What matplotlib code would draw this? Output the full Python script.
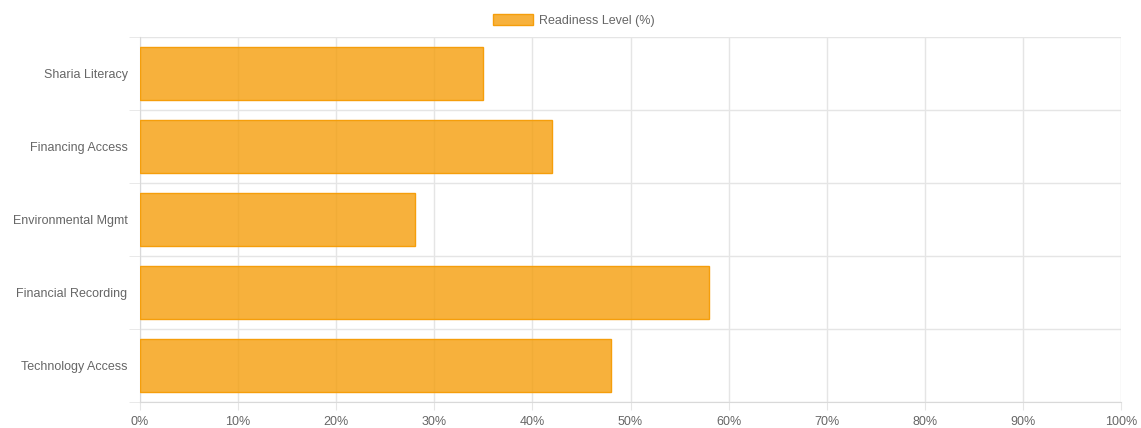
import numpy as np
import matplotlib.pyplot as plt
from matplotlib.patches import Patch

# Readiness levels per category (horizontal bar chart)
categories = ['Sharia Literacy', 'Financing Access', 'Environmental Mgmt',
              'Financial Recording', 'Technology Access']
readiness = [35, 42, 28, 58, 48]
x_ticks = list(range(0, 101, 10))
series_label = 'Readiness Level (%)'

plt.rcParams['font.family'] = ['Liberation Sans', 'DejaVu Sans']

fill = (245/255, 158/255, 11/255, 0.8)
edge = (245/255, 158/255, 11/255, 1.0)
grid_c = '#e5e5e5'
text_c = '#666666'

fig = plt.figure(figsize=(11.41, 4.28), dpi=100)
ax = fig.add_axes([140/1141, 26/428, 981/1141, 365/428])

y = np.arange(len(categories))
ax.barh(y, readiness, height=0.72, color=fill, edgecolor=edge, linewidth=1, zorder=3)

ax.set_xlim(0, 100)
ax.set_ylim(len(categories) - 0.5, -0.5)
ax.set_xticks(x_ticks)
ax.set_xticklabels([f'{v}%' for v in x_ticks])
ax.set_yticks(y)
ax.set_yticklabels(categories)
ax.set_yticks(np.arange(-0.5, len(categories)), minor=True)

ax.grid(axis='x', which='major', color=grid_c, linewidth=1, zorder=0)
ax.grid(axis='y', which='minor', color=grid_c, linewidth=1, zorder=0)
ax.tick_params(axis='x', which='major', length=6, color=grid_c, labelsize=9,
               labelcolor=text_c, pad=4)
ax.tick_params(axis='y', which='major', length=0, labelsize=9, labelcolor=text_c, pad=9)
ax.tick_params(axis='y', which='minor', length=8, color=grid_c)
for s in ['top', 'right']:
    ax.spines[s].set_visible(False)
for s in ['left', 'bottom']:
    ax.spines[s].set_color('#d9d9d9')

handle = Patch(facecolor=fill, edgecolor=edge, linewidth=1)
fig.legend([handle], [series_label], loc='center', bbox_to_anchor=(0.503, 0.953),
           frameon=False, fontsize=9, handlelength=3.2, handleheight=1.0,
           handletextpad=0.5, labelcolor=text_c)

fig.savefig('out.png', dpi=100)
